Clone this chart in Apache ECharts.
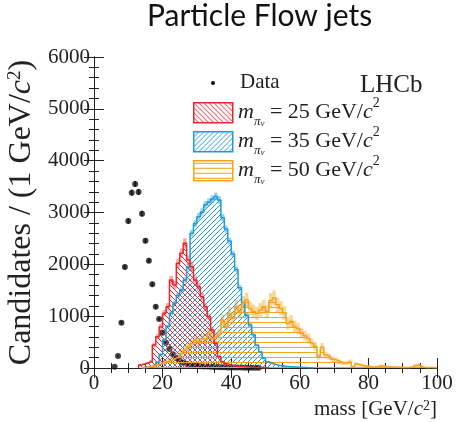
<!DOCTYPE html>
<html>
<head>
<meta charset="utf-8">
<script src="https://cdn.jsdelivr.net/npm/echarts@6/dist/echarts.min.js"></script>
<style>
  html, body { margin: 0; padding: 0; background: #fff; }
  #chart { width: 456px; height: 422px; }
</style>
</head>
<body>
<div id="chart"></div>
<script>
// data points (bin centres, GeV/c^2) and candidates per 1 GeV
const dataMass = [6, 7, 8, 9, 10, 11, 12, 13, 14, 15, 16, 17, 18, 19, 20, 21, 22, 23, 24, 25, 26, 27,
  28, 29, 30, 31, 32, 33, 34, 35, 36, 37, 38, 39, 40, 41, 42, 43, 44, 45, 46, 47, 48];
const dataCounts = [25, 231, 874, 1948, 2836, 3382, 3550, 3395, 2977, 2456, 2070, 1615, 1183, 945, 681,
  489, 367, 264, 195, 141, 102, 80, 62, 50, 42, 36, 31, 27, 24, 21, 18, 16, 14, 12, 11, 10, 9, 8, 7, 6, 5, 5, 4];

// simulated signal histograms, 1 GeV bins starting at the given low edge
const m25Start = 13;
const m25Counts = [60, 80, 100, 130, 443, 604, 797, 1055, 1183, 1698, 1601, 2020, 2213, 2405, 2084, 1955,
  1698, 1569, 1376, 1183, 990, 733, 476, 218, 120, 80, 60, 45, 35, 30, 25, 20, 15, 12, 10, 8, 6, 5];
const m35Start = 14;
const m35Counts = [10, 15, 20, 50, 110, 260, 540, 800, 1055, 1250, 1400, 1505, 1700, 1950, 2600, 2790,
  2920, 3010, 3150, 3200, 3260, 3310, 3240, 2900, 2680, 2450, 2200, 1900, 1550, 1250, 1020, 830, 640,
  440, 310, 190, 120, 90, 70, 55, 45, 35, 28, 22, 18, 14, 10, 8, 6, 5];
const m50Start = 14;
const m50Counts = [10, 15, 30, 50, 70, 90, 110, 130, 160, 190, 220, 280, 350, 410, 470, 540, 500, 560,
  540, 670, 560, 600, 650, 920, 800, 1050, 960, 1180, 1100, 1250, 1310, 1150, 1090, 1050, 1120, 1180,
  1090, 1300, 1350, 1220, 1150, 1060, 860, 900, 800, 760, 670, 620, 570, 480, 420, 220, 400, 250, 220,
  170, 150, 120, 90, 100, 120, 25, 75, 58, 45, 35, 25, 20, 25, 45, 30, 25, 20, 15, 15, 12, 10, 10, 20,
  50, 55, 20, 10, 8, 8, 6];

const xTicks = [0, 20, 40, 60, 80, 100];
const yTicks = [0, 1000, 2000, 3000, 4000, 5000, 6000];

const RED = '#e8262c', BLUE = '#1f9bd7', ORANGE = '#f5a31c';
const SERIF = 'Liberation Serif';

function hatch(kind, color, size) {
  const c = document.createElement('canvas');
  c.width = size; c.height = size;
  const g = c.getContext('2d');
  g.strokeStyle = color;
  g.lineWidth = 1;
  g.beginPath();
  if (kind === 'horiz') {
    g.moveTo(0, size / 2); g.lineTo(size, size / 2);
  } else {
    for (const o of [-size, 0, size]) {
      if (kind === 'down') { g.moveTo(o, 0); g.lineTo(o + size, size); }
      else { g.moveTo(o, size); g.lineTo(o + size, 0); }
    }
  }
  g.stroke();
  return { image: c, repeat: 'repeat' };
}

const redFill = hatch('down', RED, 5);
const blueFill = hatch('up', BLUE, 5);
const orangeFill = hatch('horiz', ORANGE, 5);

function histLine(start, counts, color, fill) {
  const pts = [[start, 0]];
  counts.forEach((v, i) => pts.push([start + i, v]));
  pts.push([start + counts.length, counts[counts.length - 1]]);
  pts.push([start + counts.length, 0]);
  return {
    type: 'line', step: 'end', data: pts, symbol: 'none', silent: true,
    lineStyle: { color, width: 1.5 },
    areaStyle: { color: fill, opacity: 1 }
  };
}

function histErr(start, counts, k, color) {
  return {
    type: 'custom', silent: true,
    data: counts.map((v, i) => [start + i, v, k * Math.sqrt(v)]),
    renderItem: (params, api) => {
      const lo = api.coord([api.value(0), api.value(1) - api.value(2)]);
      const hi = api.coord([api.value(0) + 1, api.value(1) + api.value(2)]);
      return {
        type: 'rect',
        shape: { x: lo[0], y: hi[1], width: hi[0] - lo[0], height: lo[1] - hi[1] },
        style: { fill: color }
      };
    }
  };
}

const chart = echarts.init(document.getElementById('chart'));

const baseX = {
  type: 'value', min: 0, max: 100, interval: 20,
  axisLine: { lineStyle: { color: '#222', width: 1 } },
  axisTick: { inside: true, length: 10, lineStyle: { color: '#222' } },
  minorTick: { show: true, splitNumber: 4, length: 5, lineStyle: { color: '#222' } },
  splitLine: { show: false }
};
const baseY = {
  type: 'value', min: 0, max: 6000, interval: 1000,
  axisLine: { show: true, lineStyle: { color: '#222', width: 1 } },
  axisTick: { show: true, inside: true, length: 10, lineStyle: { color: '#222' } },
  minorTick: { show: true, splitNumber: 5, length: 5, lineStyle: { color: '#222' } },
  splitLine: { show: false }
};

const legendRow = (y, value, fill, color) => ([
  {
    type: 'rect', left: 193, top: y - 10,
    shape: { width: 39, height: 20 },
    style: { fill, stroke: color, lineWidth: 1.5 }
  },
  {
    type: 'text', left: 238, top: y - 16,
    style: {
      text: '{m|m}{p|π}{v|ν}{t| = ' + value + ' GeV/}{c|c}{s|2}',
      fill: '#222',
      rich: {
        m: { fontFamily: SERIF, fontStyle: 'italic', fontSize: 22, lineHeight: 32, verticalAlign: 'middle' },
        p: { fontFamily: SERIF, fontStyle: 'italic', fontSize: 13, lineHeight: 18, verticalAlign: 'bottom' },
        v: { fontFamily: SERIF, fontStyle: 'italic', fontSize: 9, lineHeight: 9, verticalAlign: 'bottom' },
        t: { fontFamily: SERIF, fontSize: 22, lineHeight: 32, verticalAlign: 'middle' },
        c: { fontFamily: SERIF, fontStyle: 'italic', fontSize: 22, lineHeight: 32, verticalAlign: 'middle' },
        s: { fontFamily: SERIF, fontSize: 14, lineHeight: 12, verticalAlign: 'top' }
      }
    }
  }
]);

chart.setOption({
  animation: false,
  grid: { left: 94, right: 19, top: 57, bottom: 54, containLabel: false, outerBoundsMode: 'none' },
  xAxis: [
    Object.assign({}, baseX, {
      position: 'bottom',
      axisLabel: {
        margin: 5, fontFamily: SERIF, fontSize: 21, color: '#222',
        formatter: v => (xTicks.includes(v) ? String(v) : '')
      },
      name: 'mass [GeV/{c|c}{s|2}]',
      nameLocation: 'end', nameGap: 0,
      nameTextStyle: {
        fontFamily: SERIF, fontSize: 21, color: '#222', align: 'right', verticalAlign: 'top',
        padding: [31, 0, 0, 0],
        rich: {
          c: { fontFamily: SERIF, fontStyle: 'italic', fontSize: 21 },
          s: { fontFamily: SERIF, fontSize: 14, verticalAlign: 'top', lineHeight: 14 }
        }
      }
    }),
    Object.assign({}, baseX, { position: 'top', axisLabel: { show: false } })
  ],
  yAxis: [
    Object.assign({}, baseY, {
      position: 'left',
      axisLabel: {
        margin: 4, fontFamily: SERIF, fontSize: 21, color: '#222',
        formatter: v => (yTicks.includes(v) ? String(v) : '')
      },
      name: 'Candidates / (1 GeV/{c|c}{s|2})',
      nameLocation: 'middle', nameGap: 56,
      nameTextStyle: {
        fontFamily: SERIF, fontSize: 32, color: '#222',
        rich: {
          c: { fontFamily: SERIF, fontStyle: 'italic', fontSize: 32 },
          s: { fontFamily: SERIF, fontSize: 19, verticalAlign: 'top', lineHeight: 17 }
        }
      }
    }),
    Object.assign({}, baseY, { position: 'right', axisLabel: { show: false } })
  ],
  graphic: [
    {
      type: 'text', left: 147, top: 1,
      style: { text: 'Particle Flow jets', fontFamily: 'Lato', fontSize: 30, fill: '#111' }
    },
    { type: 'circle', shape: { cx: 213, cy: 83, r: 2 }, style: { fill: '#111' } },
    { type: 'text', left: 240, top: 72, style: { text: 'Data', fontFamily: SERIF, fontSize: 21, fill: '#222' } },
    { type: 'text', left: 360, top: 73, style: { text: 'LHCb', fontFamily: SERIF, fontSize: 25, fill: '#222' } },
    ...legendRow(112, 25, redFill, RED),
    ...legendRow(141, 35, blueFill, BLUE),
    ...legendRow(170, 50, orangeFill, ORANGE)
  ],
  series: [
    histErr(m35Start, m35Counts, 1.3, 'rgba(31,155,215,0.45)'),
    histLine(m35Start, m35Counts, BLUE, blueFill),
    histErr(m25Start, m25Counts, 2, 'rgba(232,38,44,0.4)'),
    histLine(m25Start, m25Counts, RED, redFill),
    histErr(m50Start, m50Counts, 4, 'rgba(245,163,28,0.45)'),
    histLine(m50Start, m50Counts, ORANGE, orangeFill),
    {
      type: 'custom', silent: true,
      data: dataMass.map((m, i) => [m, dataCounts[i], Math.sqrt(dataCounts[i])]),
      renderItem: (params, api) => {
        const lo = api.coord([api.value(0), api.value(1) - api.value(2)]);
        const hi = api.coord([api.value(0), api.value(1) + api.value(2)]);
        return {
          type: 'line',
          shape: { x1: lo[0], y1: lo[1], x2: hi[0], y2: hi[1] },
          style: { stroke: '#111', lineWidth: 1.5 }
        };
      }
    },
    {
      type: 'scatter', silent: true, symbol: 'circle', symbolSize: 6,
      itemStyle: { color: '#111' },
      data: dataMass.map((m, i) => [m, dataCounts[i]])
    }
  ]
});
</script>
</body>
</html>
